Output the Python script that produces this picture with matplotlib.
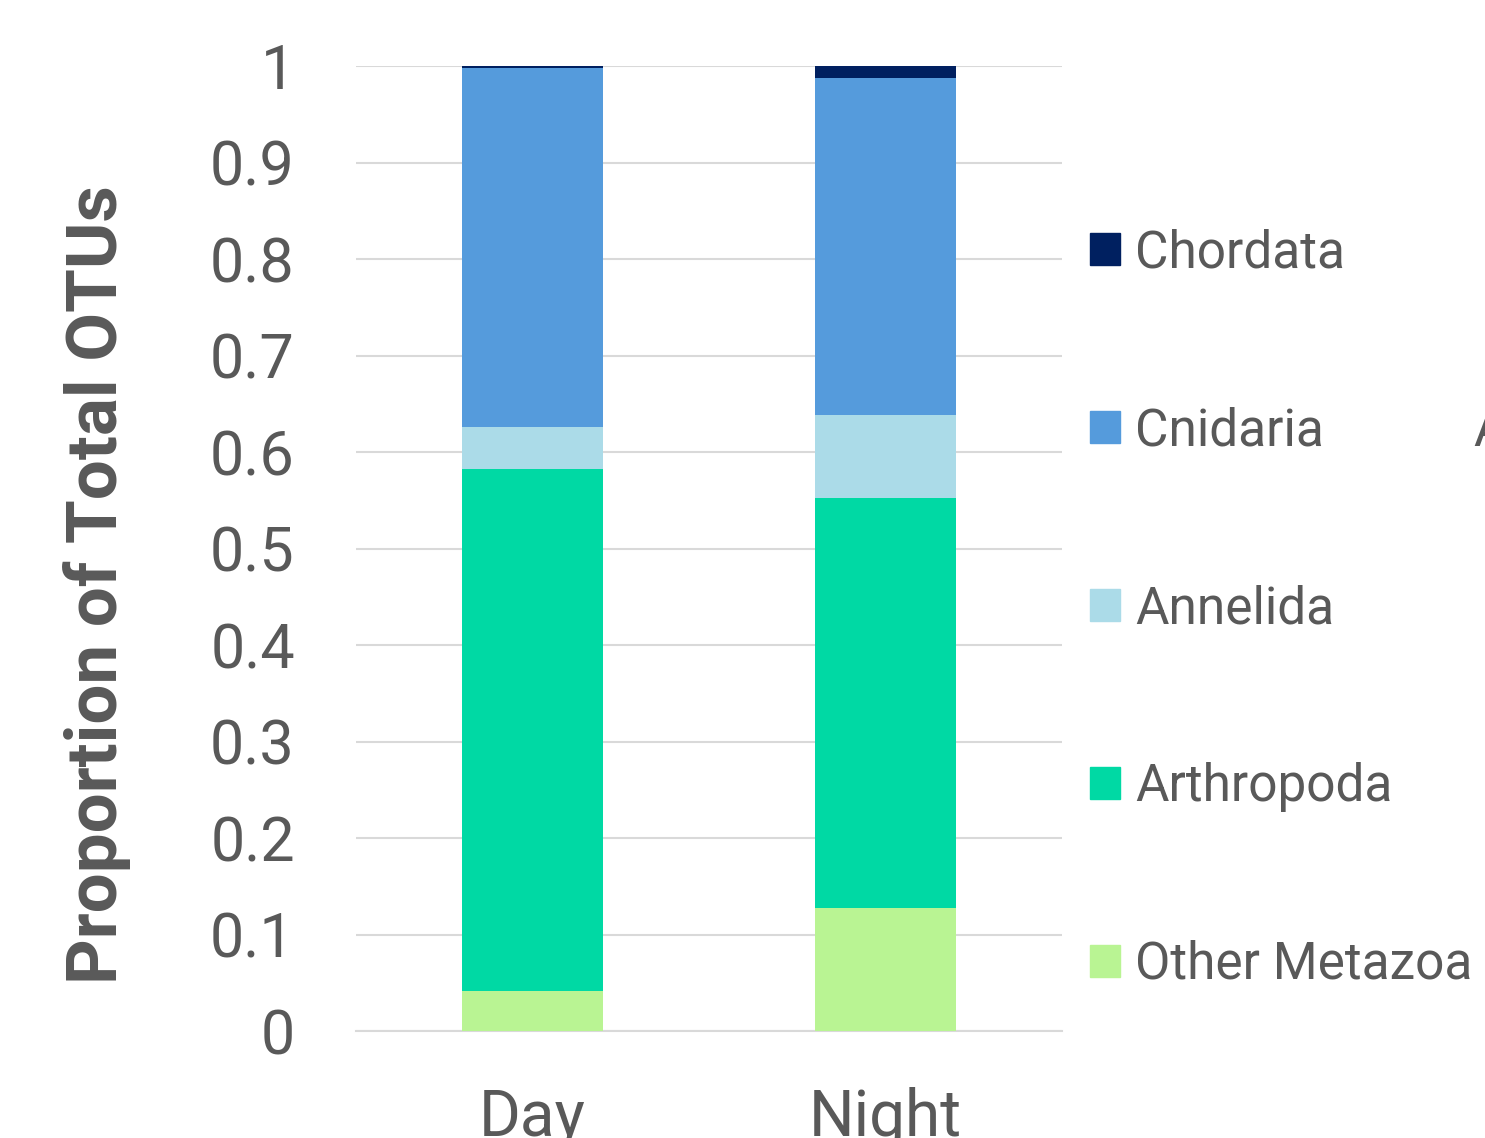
import matplotlib
matplotlib.use("Agg")
import matplotlib.pyplot as plt
from matplotlib.patches import Patch
import numpy as np

plt.rcParams['font.family'] = ['Roboto', 'DejaVu Sans']

categories = ["Day", "Night"]
series_names = ["Other Metazoa", "Arthropoda", "Annelida", "Cnidaria", "Chordata"]
other_metazoa = [0.041, 0.127]
arthropoda = [0.541, 0.425]
annelida = [0.044, 0.086]
cnidaria = [0.372, 0.350]
chordata = [0.002, 0.012]
yticks = [0, 0.1, 0.2, 0.3, 0.4, 0.5, 0.6, 0.7, 0.8, 0.9, 1]
ytick_labels = ["0", "0.1", "0.2", "0.3", "0.4", "0.5", "0.6", "0.7", "0.8", "0.9", "1"]

colors = ["#b9f493", "#00d9a4", "#abdbe8", "#559bdc", "#002060"]
text_color = "#595959"

fig = plt.figure(figsize=(14.85, 11.38), dpi=100)
ax = fig.add_axes([0.2397, 0.0940, 0.4754, 0.848])

x = np.arange(len(categories))
bottom = np.zeros(len(categories))
series = [other_metazoa, arthropoda, annelida, cnidaria, chordata]
for name, vals, c in zip(series_names, series, colors):
    ax.bar(x, vals, width=0.40, bottom=bottom, color=c, label=name, zorder=3)
    bottom += np.array(vals)

ax.set_xlim(-0.5, 1.5)
ax.set_ylim(0, 1)
ax.set_yticks(yticks)
ax.set_yticklabels(ytick_labels)
ax.set_xticks(x)
ax.set_xticklabels(categories)
ax.grid(axis='y', color='#d9d9d9', linewidth=1.5, zorder=0)
for s in ['top', 'right', 'left']:
    ax.spines[s].set_visible(False)
ax.spines['bottom'].set_color('#d9d9d9')
ax.spines['bottom'].set_linewidth(1.5)
ax.tick_params(axis='y', length=0, pad=44, labelsize=44, labelcolor=text_color)
ax.tick_params(axis='x', length=0, pad=40, labelsize=46, labelcolor=text_color)

fig.text(97/1485, 1 - 585/1138, "Proportion of Total OTUs", rotation=90,
         ha='center', va='center', fontsize=51, fontweight='bold', color=text_color)

handles = [Patch(color=c) for c in colors][::-1]
labels = series_names[::-1]
leg = fig.legend(handles, labels, loc='center left',
                 bbox_to_anchor=(1090/1485, 1 - 609/1138), frameon=False,
                 fontsize=37, handlelength=0.58, handleheight=0.58,
                 handletextpad=0.3, labelspacing=2.49, borderpad=0, borderaxespad=0)
for t in leg.get_texts():
    t.set_color(text_color)

fig.text(1473/1485, 1 - 432/1138, "A", ha='left', va='center', fontsize=38, color=text_color)

fig.savefig("out.png", dpi=100)
